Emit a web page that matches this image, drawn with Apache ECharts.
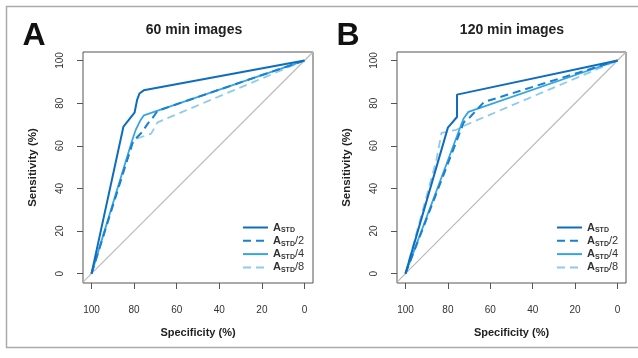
<!DOCTYPE html>
<html>
<head>
<meta charset="utf-8">
<script src="https://cdn.jsdelivr.net/npm/echarts@6.0.0/dist/echarts.min.js"></script>
<style>
  html, body { margin: 0; padding: 0; background: #fff; }
  #chart { width: 638px; height: 358px; }
</style>
</head>
<body>
<div id="chart"></div>
<script>
// ROC points as [specificity %, sensitivity %]
const panelTitles = ['60 min images', '120 min images'];
const panelLetters = ['A', 'B'];
const seriesNames = ['ASTD', 'ASTD/2', 'ASTD/4', 'ASTD/8'];
const tickValues = [0, 20, 40, 60, 80, 100];

const rocA_std = [[100, 0], [85, 69], [79.8, 75.5], [78.6, 81.5], [77.5, 84.5], [75.5, 86], [0, 100]];
const rocA_2 = [[100, 0], [80.5, 62], [76.2, 66.5], [73.5, 70.5], [71.5, 72.8], [69, 76.4], [0, 100]];
const rocA_4 = [[100, 0], [80.9, 62.6], [79.3, 67.3], [77, 72], [75.4, 74.3], [0, 100]];
const rocA_8 = [[100, 0], [81, 61], [78.6, 63.4], [72, 65.7], [69, 71], [0, 100]];

const rocB_std = [[100, 0], [80, 68.5], [75.7, 73.5], [75.7, 84], [0, 100]];
const rocB_2 = [[100, 0], [72.5, 71], [69.5, 73.5], [63, 80.5], [0, 100]];
const rocB_4 = [[100, 0], [72.6, 72.8], [70.3, 75.9], [0, 100]];
const rocB_8 = [[100, 0], [85.5, 53], [83, 66], [76, 67.5], [71, 70], [0, 100]];

const chanceLine = [[104, -4], [-4, 104]];

const colors = ['#0f6dbd', '#1a80cf', '#35a6e2', '#8ccbee'];
const dashes = ['solid', [8, 5], 'solid', [8, 5]];
const widths = [2, 2, 1.8, 1.8];
const FONT = 'Liberation Sans, Arial, sans-serif';

const chart = echarts.init(document.getElementById('chart'));

const grids = [
  { left: 83, top: 52, width: 230, height: 231 },
  { left: 397, top: 52, width: 229, height: 231 }
];

function xAxisFor(i) {
  return {
    gridIndex: i, type: 'value', inverse: true, min: -4, max: 104, position: 'bottom',
    name: 'Specificity (%)', nameLocation: 'middle', nameGap: 44,
    nameTextStyle: { fontFamily: FONT, fontSize: 11, fontWeight: 'bold', color: '#222' },
    axisLine: { show: false, onZero: false },
    axisTick: { show: true, inside: false, length: 6, customValues: tickValues, lineStyle: { color: '#555' } },
    axisLabel: { customValues: tickValues, margin: 22, fontFamily: FONT, fontSize: 10, color: '#333' },
    splitLine: { show: false }
  };
}

function yAxisFor(i) {
  return {
    gridIndex: i, type: 'value', min: -4.4, max: 104, position: 'left',
    name: 'Sensitivity (%)', nameLocation: 'middle', nameGap: 44, nameRotate: 90,
    nameTextStyle: { fontFamily: FONT, fontSize: 11.5, fontWeight: 'bold', color: '#222' },
    axisLine: { show: false, onZero: false },
    axisTick: { show: true, inside: false, length: 6, customValues: tickValues, lineStyle: { color: '#555' } },
    axisLabel: { customValues: tickValues, rotate: 90, margin: 18, fontFamily: FONT, fontSize: 10, color: '#333' },
    splitLine: { show: false }
  };
}

const panels = [[rocA_std, rocA_2, rocA_4, rocA_8], [rocB_std, rocB_2, rocB_4, rocB_8]];
const series = [];
panels.forEach((sets, p) => {
  series.push({
    type: 'line', xAxisIndex: p, yAxisIndex: p, data: chanceLine,
    symbol: 'none', silent: true, clip: true,
    lineStyle: { color: '#b8b8b8', width: 1.1 }, z: 1
  });
  sets.forEach((d, k) => {
    series.push({
      name: seriesNames[k], type: 'line', xAxisIndex: p, yAxisIndex: p, data: d,
      symbol: 'none', showSymbol: false, clip: true, color: colors[k],
      lineStyle: { color: colors[k], width: widths[k], type: dashes[k] }, z: 5 - k
    });
  });
});

const legendText = {
  fontFamily: FONT, fontSize: 11, color: '#333', lineHeight: 13,
  rich: {
    a: { fontFamily: FONT, fontSize: 11, fontWeight: 'bold', color: '#333' },
    s: { fontFamily: FONT, fontSize: 7, fontWeight: 'bold', color: '#333', verticalAlign: 'bottom', padding: [3, 0, 0, 0] },
    r: { fontFamily: FONT, fontSize: 11, color: '#333' }
  }
};
function legendFmt(name) {
  return '{a|A}{s|STD}{r|' + name.slice(4) + '}';
}
function legendAt(left) {
  return {
    data: seriesNames, orient: 'vertical', left: left, top: 216,
    itemWidth: 25, itemHeight: 10, itemGap: 0.3,
    itemStyle: { opacity: 0, borderWidth: 0 },
    selectedMode: false, formatter: legendFmt, textStyle: legendText
  };
}

chart.setOption({
  animation: false,
  backgroundColor: '#fff',
  grid: grids.map(g => Object.assign({ show: true, borderColor: '#555', borderWidth: 1, backgroundColor: 'transparent' }, g)),
  xAxis: [xAxisFor(0), xAxisFor(1)],
  yAxis: [yAxisFor(0), yAxisFor(1)],
  legend: [legendAt(237), legendAt(551)],
  series: series,
  graphic: [
    { type: 'rect', shape: { x: 6.5, y: 6.5, width: 640, height: 341 }, style: { fill: 'none', stroke: '#aaa', lineWidth: 1.5 }, silent: true },
    { type: 'text', x: 34, y: 36, style: { text: panelLetters[0], font: 'bold 32px ' + FONT, fill: '#111', textAlign: 'center', textVerticalAlign: 'middle' } },
    { type: 'text', x: 348, y: 36, style: { text: panelLetters[1], font: 'bold 32px ' + FONT, fill: '#111', textAlign: 'center', textVerticalAlign: 'middle' } },
    { type: 'text', x: 194, y: 30, style: { text: panelTitles[0], font: 'bold 14px ' + FONT, fill: '#222', textAlign: 'center', textVerticalAlign: 'middle' } },
    { type: 'text', x: 512, y: 30, style: { text: panelTitles[1], font: 'bold 14px ' + FONT, fill: '#222', textAlign: 'center', textVerticalAlign: 'middle' } }
  ]
});
</script>
</body>
</html>
